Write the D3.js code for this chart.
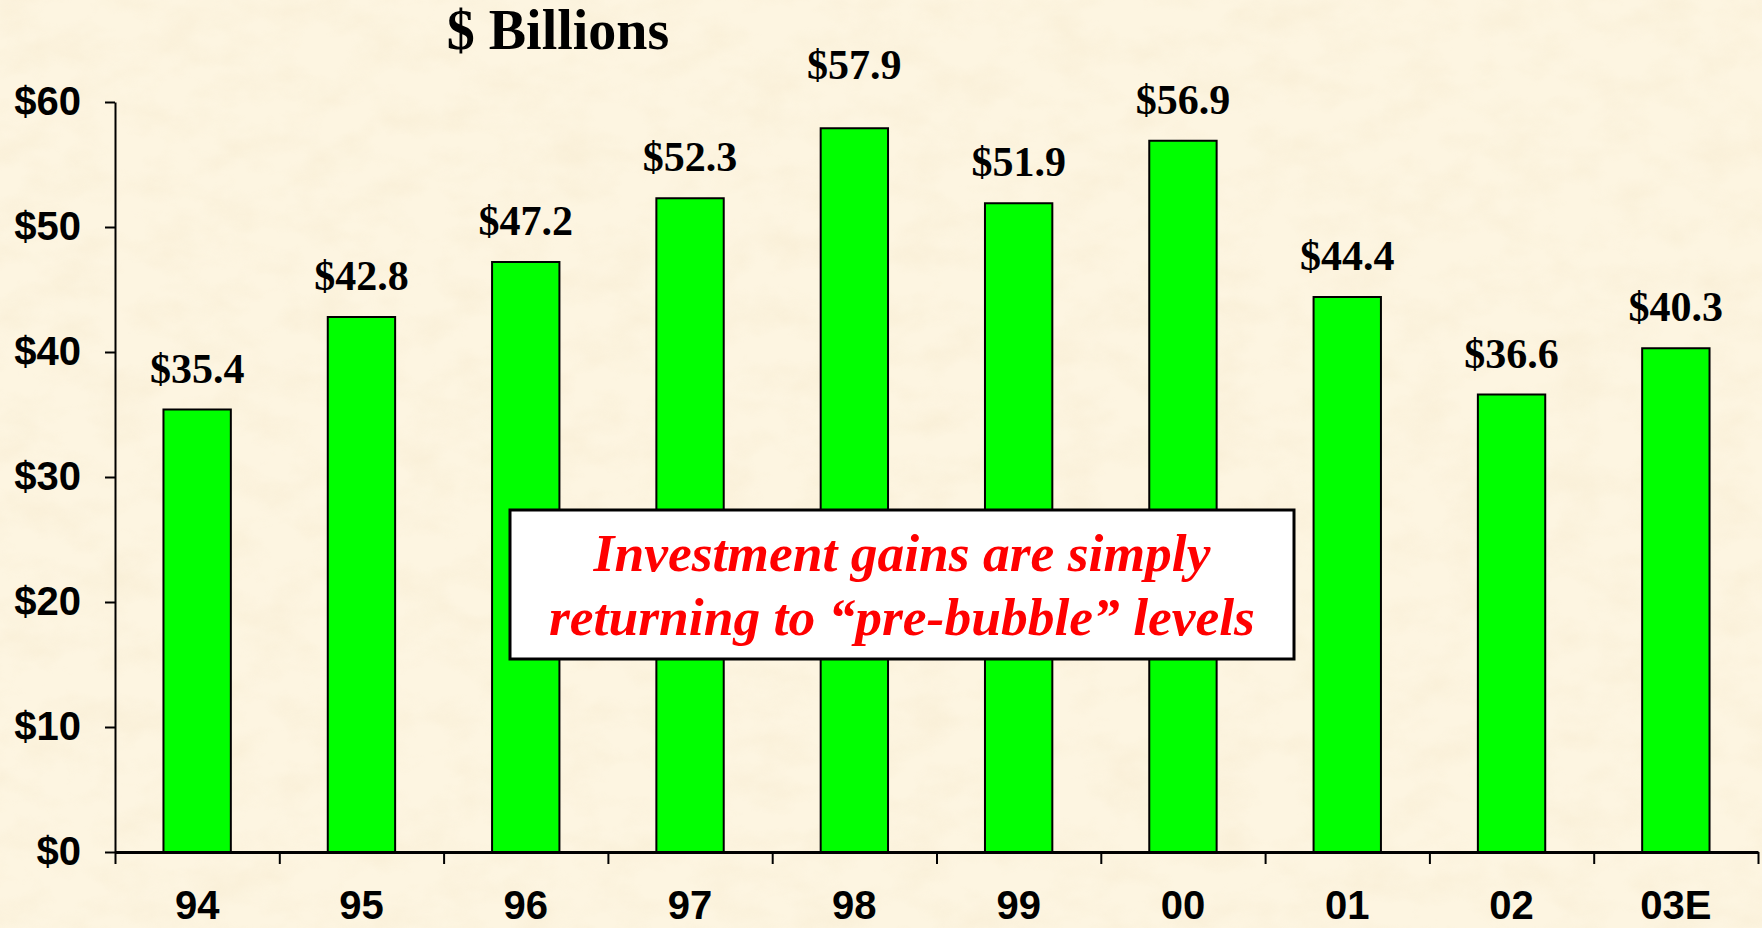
<!DOCTYPE html>
<html>
<head>
<meta charset="utf-8">
<script src="https://cdn.jsdelivr.net/npm/d3@7"></script>
<style>
  html, body { margin: 0; padding: 0; background: #fdf3dc; overflow: hidden; }
  svg { display: block; }
</style>
</head>
<body>
<div id="chart"></div>
<script>
// data
const years = ["94", "95", "96", "97", "98", "99", "00", "01", "02", "03E"];
const gains = [35.4, 42.8, 47.2, 52.3, 57.9, 51.9, 56.9, 44.4, 36.6, 40.3];
const yTicks = [0, 10, 20, 30, 40, 50, 60];
const title = "$ Billions";
const noteLines = ["Investment gains are simply", "returning to \u201cpre-bubble\u201d levels"];

const W = 1762, H = 928;
const margin = {top: 102, right: 4, bottom: 76, left: 115};
const width = W - margin.left - margin.right,
      height = H - margin.top - margin.bottom;

const data = years.map((yr, i) => ({year: yr, value: gains[i]}));

const svg = d3.select("#chart").append("svg")
    .attr("width", W)
    .attr("height", H);

// parchment background
const defs = svg.append("defs");
const f = defs.append("filter").attr("id", "paper")
    .attr("x", 0).attr("y", 0).attr("width", "100%").attr("height", "100%");
f.append("feTurbulence")
    .attr("type", "fractalNoise")
    .attr("baseFrequency", "0.02 0.03")
    .attr("numOctaves", 4)
    .attr("seed", 11);
f.append("feColorMatrix")
    .attr("type", "matrix")
    .attr("values", "0 0 0 0 0.92  0 0 0 0 0.82  0 0 0 0 0.62  1.9 0 0 0 -0.74");

svg.append("rect").attr("width", W).attr("height", H).attr("fill", "#fdf5e1");
svg.append("rect").attr("width", W).attr("height", H)
    .attr("filter", "url(#paper)").attr("opacity", 0.45);

const g = svg.append("g")
    .attr("transform", `translate(${margin.left},${margin.top})`);

const x = d3.scaleBand().domain(years).range([0, width])
    .paddingInner(0.59).paddingOuter(0.295);
const y = d3.scaleLinear().domain([0, 60]).range([height, 0]);

// bars
g.selectAll(".bar")
  .data(data)
  .enter().append("rect")
    .attr("class", "bar")
    .attr("x", d => x(d.year))
    .attr("y", d => y(d.value))
    .attr("width", x.bandwidth())
    .attr("height", d => height - y(d.value))
    .attr("fill", "#00ff00")
    .attr("stroke", "#000")
    .attr("stroke-width", 2);

// value labels (the tallest one sits a little higher on the slide)
g.selectAll(".val")
  .data(data)
  .enter().append("text")
    .attr("class", "val")
    .attr("x", d => x(d.year) + x.bandwidth() / 2)
    .attr("y", d => y(d.value) - (d.value === d3.max(gains) ? 49 : 27))
    .attr("text-anchor", "middle")
    .style("font-family", "'Liberation Serif', 'Times New Roman', serif")
    .style("font-weight", "bold")
    .style("font-size", "42px")
    .text(d => "$" + d.value.toFixed(1));

// y axis
const yAxis = g.append("g")
    .call(d3.axisLeft(y).tickValues(yTicks).tickFormat(d => "$" + d)
            .tickSize(10).tickSizeOuter(0).tickPadding(24));
yAxis.select(".domain").attr("stroke", "#000").attr("stroke-width", 2);
yAxis.selectAll(".tick line").attr("stroke", "#000").attr("stroke-width", 2);
yAxis.selectAll(".tick text")
    .attr("fill", "#000")
    .style("font-family", "'Liberation Sans', Arial, sans-serif")
    .style("font-weight", "bold")
    .style("font-size", "40px");

// x axis: boundary ticks
const xb = d3.scaleLinear().domain([0, years.length]).range([0, width]);
const xAxis = g.append("g")
    .attr("transform", `translate(0,${height})`)
    .call(d3.axisBottom(xb).tickValues(d3.range(years.length + 1))
            .tickFormat("").tickSize(12).tickSizeOuter(0));
xAxis.select(".domain").attr("stroke", "#000").attr("stroke-width", 3);
xAxis.selectAll(".tick line").attr("stroke", "#000").attr("stroke-width", 2);

// category labels
const xLab = g.append("g")
    .attr("transform", `translate(0,${height})`)
    .call(d3.axisBottom(x).tickSize(0).tickPadding(0));
xLab.select(".domain").remove();
xLab.selectAll(".tick text")
    .attr("dy", null)
    .attr("y", 67)
    .attr("fill", "#000")
    .style("font-family", "'Liberation Sans', Arial, sans-serif")
    .style("font-weight", "bold")
    .style("font-size", "40px");

// title
svg.append("text")
    .attr("x", 558).attr("y", 49)
    .attr("text-anchor", "middle")
    .style("font-family", "'Liberation Serif', 'Times New Roman', serif")
    .style("font-weight", "bold")
    .style("font-size", "56px")
    .text(title);

// annotation box
const note = svg.append("g");
note.append("rect")
    .attr("x", 510).attr("y", 510)
    .attr("width", 784).attr("height", 149)
    .attr("fill", "#fff")
    .attr("stroke", "#000")
    .attr("stroke-width", 3);
note.selectAll("text")
  .data(noteLines)
  .enter().append("text")
    .attr("x", 902)
    .attr("y", (d, i) => 571 + i * 64)
    .attr("text-anchor", "middle")
    .attr("fill", "#ff0000")
    .style("font-family", "'Liberation Serif', 'Times New Roman', serif")
    .style("font-weight", "bold")
    .style("font-style", "italic")
    .style("font-size", "53.5px")
    .text(d => d);
</script>
</body>
</html>
